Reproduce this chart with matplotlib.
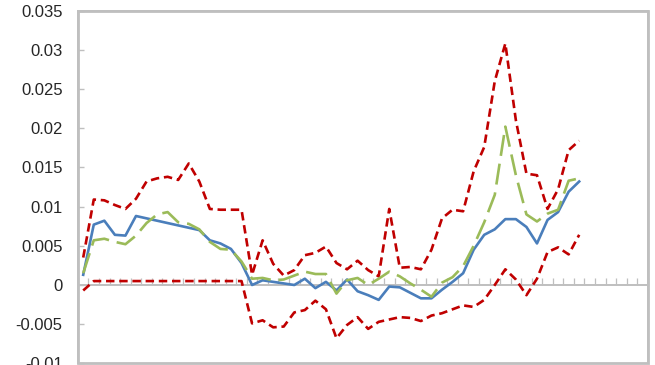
import numpy as np
import matplotlib
matplotlib.use("Agg")
import matplotlib.pyplot as plt
from matplotlib.ticker import FuncFormatter, MultipleLocator

# 48 observations plotted on a 54-slot category axis
n_slots = 54

estimate = [0.0013, 0.0077, 0.0082, 0.0064, 0.0063, 0.0088, 0.0085, 0.0082, 0.0079, 0.0076,
            0.0073, 0.0070, 0.0057, 0.0053, 0.0046, 0.0028, 0.0000, 0.0006, 0.0004, 0.0002,
            0.0000, 0.0008, -0.0004, 0.0004, -0.0007, 0.0007, -0.0008, -0.0013, -0.0019, -0.0002,
            -0.0003, -0.0010, -0.0017, -0.0017, -0.0006, 0.0004, 0.0015, 0.0045, 0.0064, 0.0071,
            0.0084, 0.0084, 0.0074, 0.0053, 0.0083, 0.0093, 0.0119, 0.0132]

alt_estimate = [0.0015, 0.0057, 0.0059, 0.0055, 0.0052, 0.0063, 0.0079, 0.0090, 0.0093, 0.0080,
                0.0078, 0.0071, 0.0055, 0.0046, 0.0045, 0.0030, 0.0008, 0.0009, 0.0006, 0.0007,
                0.0012, 0.0017, 0.0014, 0.0014, -0.0011, 0.0006, 0.0009, 0.0000, 0.0008, 0.0017,
                0.0011, 0.0002, -0.0006, -0.0015, 0.0003, 0.0010, 0.0024, 0.0050, 0.0080, 0.0115,
                0.0202, 0.0140, 0.0090, 0.0081, 0.0091, 0.0096, 0.0133, 0.0136]

upper_band = [0.0035, 0.0109, 0.0108, 0.0102, 0.0097, 0.0110, 0.0132, 0.0136, 0.0138, 0.0134,
              0.0155, 0.0132, 0.0097, 0.0096, 0.0096, 0.0096, 0.0013, 0.0057, 0.0027, 0.0012,
              0.0019, 0.0038, 0.0041, 0.0049, 0.0028, 0.0020, 0.0031, 0.0019, 0.0011, 0.0097,
              0.0022, 0.0023, 0.0020, 0.0045, 0.0085, 0.0096, 0.0094, 0.0145, 0.0176, 0.0260,
              0.0308, 0.0210, 0.0142, 0.0140, 0.0097, 0.0122, 0.0172, 0.0184]

lower_band = [-0.0007, 0.0005, 0.0005, 0.0005, 0.0005, 0.0005, 0.0005, 0.0005, 0.0005, 0.0005,
              0.0005, 0.0005, 0.0005, 0.0005, 0.0005, 0.0005, -0.0049, -0.0045, -0.0054, -0.0053,
              -0.0035, -0.0032, -0.0020, -0.0031, -0.0068, -0.0051, -0.0041, -0.0056, -0.0047, -0.0044,
              -0.0041, -0.0042, -0.0046, -0.0039, -0.0036, -0.0031, -0.0026, -0.0028, -0.0019, 0.0000,
              0.0020, 0.0007, -0.0013, 0.0008, 0.0042, 0.0048, 0.0039, 0.0064]

plt.rcParams['font.family'] = ['Liberation Sans', 'DejaVu Sans']

fig = plt.figure(figsize=(6.55, 3.65), dpi=100)
ax = fig.add_axes([0.119, 0.0044, 0.870, 0.9666])

x = np.arange(len(estimate))
grey = "#BFBFBF"

ax.plot(x, lower_band, color="#C00000", linewidth=1.9, dashes=(3.2, 1.8), zorder=3)
ax.plot(x, upper_band, color="#C00000", linewidth=1.9, dashes=(3.2, 1.8), zorder=3)
ax.plot(x, estimate, color="#4A7EBB", linewidth=1.9, zorder=4)
ax.plot(x, alt_estimate, color="#9BBB59", linewidth=1.9, dashes=(8, 3), zorder=5)

ax.set_xlim(-0.5, n_slots - 0.5)
ax.set_ylim(-0.01, 0.035)

# frame around plot area
for side in ["left", "right", "top"]:
    ax.spines[side].set_color(grey)
    ax.spines[side].set_linewidth(1.4)
ax.patch.set_edgecolor(grey)
ax.patch.set_linewidth(2.0)

# category axis crossing at zero with tick marks between categories
ax.spines["bottom"].set_position(("data", 0))
ax.spines["bottom"].set_color(grey)
ax.spines["bottom"].set_linewidth(1.4)
ax.spines["bottom"].set_zorder(2)
ax.set_xticks(np.arange(n_slots + 1) - 0.5)
ax.tick_params(axis="x", direction="in", length=5, width=0.9, color=grey, labelbottom=False)

ax.yaxis.set_major_locator(MultipleLocator(0.005))
ax.yaxis.set_major_formatter(FuncFormatter(lambda v, p: "%g" % round(v, 4) if abs(v) > 1e-9 else "0"))
ax.tick_params(axis="y", direction="in", length=4, width=1.0, color=grey,
               labelsize=12, labelcolor="#262626", pad=11)

fig.savefig("out.png", dpi=100)
